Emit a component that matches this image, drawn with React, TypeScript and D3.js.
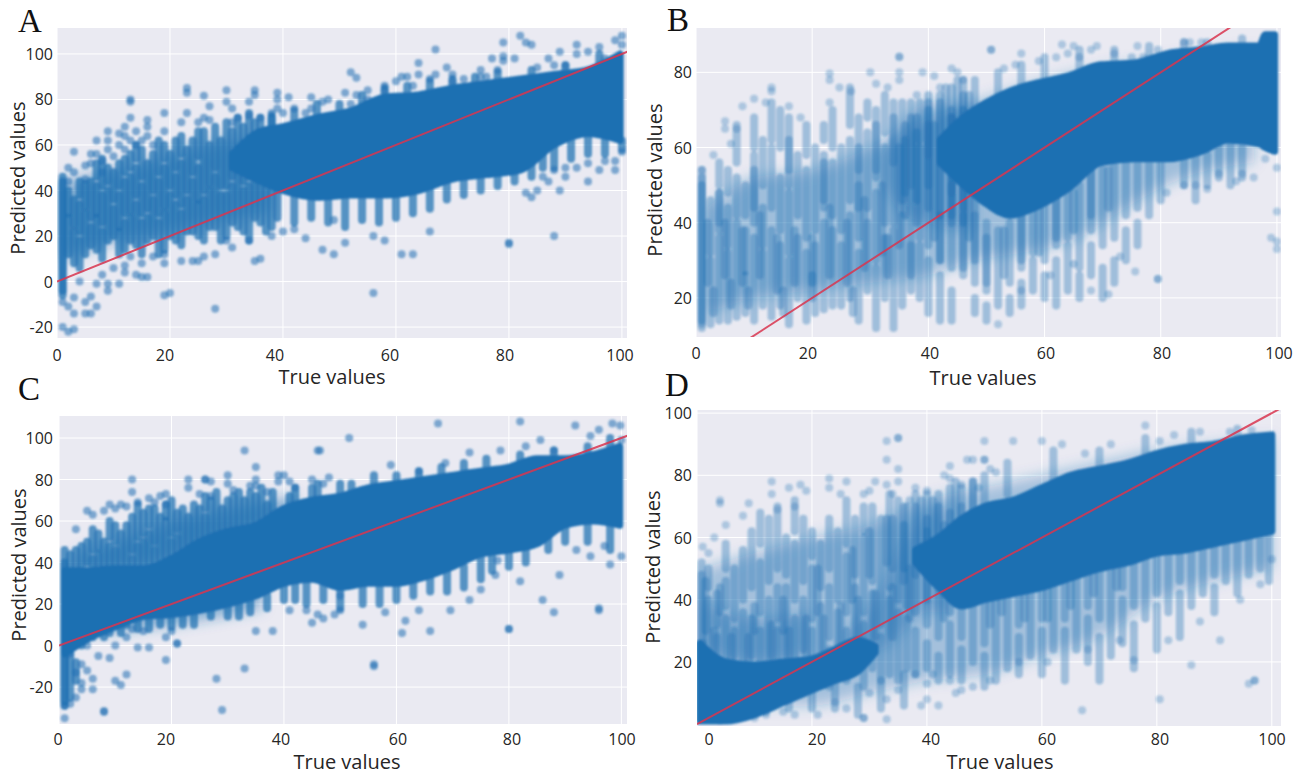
import React from 'react';
import * as d3 from 'd3';

// the saturated middle of each cloud cannot be read dot by dot, so it is kept as
// [true, low, high] bands, with paler wash bands where the dots only partly overlap;
// stacked dot columns are [true, low, high] strips; dots that can be told apart are [true, ...predicted]
const xTicks = [0, 20, 40, 60, 80, 100];
const yTicksA = [-20, 0, 20, 40, 60, 80, 100];
const yTicksB = [20, 40, 60, 80];
const yTicksC = [-20, 0, 20, 40, 60, 80, 100];
const yTicksD = [20, 40, 60, 80, 100];

const aCore = [[31, 50, 56], [36, 44, 66], [40, 40, 68], [46, 37, 72], [52, 38, 75], [58, 38, 81], [64, 40, 82], [70, 45, 85], [76, 47, 87], [82, 49, 89], [88, 60, 91], [94, 65, 93], [99.7, 62, 100]];
const aWash = [[1, 10, 44], [8, 16, 48], [16, 20, 52], [24, 24, 58], [32, 28, 62], [38, 30, 60]];
const aStrips = [
  [1, -6, 46], [1, -4, 44], [3, 8, 22], [3, 25, 36], [5, 12, 30], [5, 33, 43], [7, 14, 28], [7, 30, 42], [7, 46, 52],
  [9, 18, 40], [9, 44, 50], [11, 12, 22], [11, 24, 38], [11, 42, 52], [13, 18, 28], [13, 31, 46], [13, 50, 56],
  [15, 12, 26], [15, 30, 42], [15, 46, 58], [17, 20, 36], [17, 40, 56], [19, 14, 30], [19, 33, 50], [19, 54, 60],
  [21, 18, 34], [21, 38, 46], [21, 50, 62], [23, 22, 36], [23, 40, 58], [25, 20, 34], [25, 36, 50], [25, 55, 66],
  [27, 24, 40], [27, 43, 60], [29, 18, 38], [29, 42, 62], [31, 26, 42], [31, 46, 66], [33, 22, 40], [33, 44, 68],
  [35, 28, 46], [35, 48, 70], [37, 22, 42], [39, 28, 40], [42, 26, 37], [45, 28, 36], [48, 26, 36], [51, 24, 36],
  [54, 27, 36], [57, 26, 38], [60, 28, 38], [63, 30, 40], [66, 32, 42], [69, 36, 45], [72, 38, 46], [75, 40, 47],
  [2, 12, 28], [2, 30, 40], [4, 6, 18], [4, 22, 34], [4, 38, 44], [6, 16, 24], [6, 28, 44], [8, 10, 22], [8, 26, 38], [8, 42, 54], [10, 20, 32], [10, 36, 48],
  [12, 14, 26], [12, 30, 44], [12, 48, 54], [14, 16, 34], [14, 38, 50], [14, 54, 60], [16, 18, 28], [16, 32, 52], [18, 12, 26], [18, 30, 44], [18, 48, 62],
  [20, 20, 38], [20, 42, 56], [22, 16, 30], [22, 34, 52], [22, 56, 64], [24, 22, 44], [24, 48, 62], [26, 18, 36], [26, 40, 66], [28, 24, 46], [28, 50, 68],
  [30, 20, 38], [30, 42, 70], [32, 24, 50], [32, 54, 72], [34, 18, 42], [34, 46, 74], [36, 26, 72], [38, 24, 72],
  [38, 68, 73], [42, 70, 75], [46, 72, 78], [50, 74, 78], [54, 76, 82], [58, 82, 85], [62, 82, 86], [66, 83, 88], [70, 85, 89], [74, 86, 90], [78, 87, 92], [84, 89, 93], [90, 91, 95], [96, 94, 100],
  [78, 42, 49], [81, 44, 50], [84, 46, 54], [86, 50, 60], [88, 50, 60], [91, 54, 64], [94, 56, 65], [97, 56, 62], [100, 58, 62],
];
const aPoints = [
  [1, -20, -9], [2, 50, 44, -22, -11], [3, 57, 48, -21, -14, -7], [4, 0], [5, 51, 45, -9, -14], [6, 56, 52, -6.6, -14], [7, 62, 56, -11, -1],
  [8, 53, 48, 3], [9, 66, 62, 58, -4, -1], [10, 55, 6], [11, 65, 60, -1], [12, 68, 64, 58, 4, 7], [13, 80, 79, 72, 62, 11], [14, 66, 60, 3],
  [15, 62, 2, 8], [16, 71, 68, 64, 2], [17, 60, 11], [19, 74, 66, -6, 8, 12], [20, -5], [22, 70, 9], [23, 85, 83, 74], [24, 9], [25, 9, 70],
  [26, 81.6, 72, 11], [27, 77, 71], [28, 12, -12], [30, 84, 79, 18], [31, 76, 70, 15], [32, 72], [34, 79, 73, 18], [35, 84, 82, 9], [36, 72, 10],
  [38, 74, 20], [39, 83, 80, 76], [40, 22, 74], [41, 81], [42, 23, 76], [44, 19, 74], [45, 81, 76], [47, 79, 14], [48, 80], [49, 27, 12], [51, 83, 17],
  [52, 92, 78], [53, 89.5, 82], [55, 80, 84], [56, -5, 20], [58, 18, 86, 84], [60, 88], [61, 12, 90], [62, 90], [63, 12, 86], [64, 96, 91], [66, 89, 22],
  [67, 102, 91], [69, 94], [70, 91, 88], [72, 89], [75, 93, 90], [76, 90], [77, 98], [78, 93], [79, 105, 99, 97], [80, 17, 16.5], [81, 98], [82, 108],
  [83, 105, 39], [84, 104, 37], [85, 40, 94], [86, 46], [87, 98, 44], [88, 20, 49, 95], [89, 101, 40], [90, 95, 50, 46], [92, 104, 100, 50], [94, 101, 44, 52],
  [96, 103, 49], [97, 53, 98], [98.8, 106, 49, 53], [100, 108, 57, 104],
];

const bCore = [[42, 56, 62], [46, 50, 68], [50, 45, 72], [54, 42, 75], [58.3, 44, 77], [64, 49, 79], [69.7, 56, 82], [75.5, 57, 82.5], [81.2, 57, 85], [87, 59, 86], [91.6, 62, 87], [97, 61, 87], [98, 60, 90], [99.6, 59, 90]];
const bWash = [[2, 16, 44], [10, 20, 52], [20, 22, 54], [30, 24, 60], [40, 26, 68], [48, 30, 72], [56, 32, 76], [66, 36, 80], [74, 44, 82], [84, 52, 84], [96, 56, 86]];
const bWashInner = [[32, 50, 58], [36, 42, 68], [40, 40, 72], [44, 38, 72], [48, 38, 72]];
const bStrips = [
  [1, 12, 54], [1, 13, 52], [1, 14, 50], [2.5, 13, 30], [2.5, 32, 46], [4, 14, 36], [4, 38, 48], [4, 50, 56], [5.5, 14, 32], [5.5, 34, 44], [5.5, 48, 54],
  [7, 15, 40], [7, 42, 52], [7, 56, 66], [8.5, 16, 26], [8.5, 27, 38], [8.5, 42, 50], [10, 14, 36], [10, 40, 58], [10, 60, 68], [11.5, 18, 32], [11.5, 34, 44], [11.5, 50, 62],
  [13, 15, 38], [13, 44, 60], [13, 62, 72], [14.5, 18, 34], [14.5, 38, 52], [14.5, 60, 70], [16, 13, 30], [16, 32, 48], [16, 54, 68], [17.5, 20, 36], [17.5, 42, 58],
  [19, 14, 32], [19, 36, 54], [19, 58, 66], [20.5, 16, 34], [20.5, 38, 60], [22, 17, 40], [22, 44, 58], [22, 62, 66], [23.5, 18, 38], [23.5, 42, 56], [23.5, 60, 70],
  [25, 18, 34], [25, 38, 60], [26.5, 20, 42], [26.5, 46, 62], [26.5, 66, 76], [28, 14, 32], [28, 36, 50], [28, 54, 68], [29.5, 22, 40], [29.5, 44, 64], [29.5, 68, 72],
  [31, 12, 28], [31, 30, 48], [31, 52, 70], [32.5, 20, 36], [32.5, 40, 60], [32.5, 64, 74], [34, 12, 38], [34, 40, 68], [35.5, 18, 42], [35.5, 46, 72], [37, 22, 44], [37, 46, 68],
  [38.5, 20, 34], [38.5, 36, 60], [38.5, 62, 72], [40, 16, 30], [40, 34, 72], [42, 14, 26], [42, 30, 74], [44, 14, 22], [44, 28, 50], [44, 54, 76], [46, 26, 78], [48, 30, 78],
  [36, 48, 66], [38, 46, 68], [40, 44, 70], [42, 42, 72], [44, 42, 70], [46, 40, 74], [36, 42, 62], [40, 50, 66], [44, 48, 68], [46, 44, 70],
  [48, 16, 20], [48, 24, 42], [50, 14, 18], [50, 22, 40], [52, 18, 38], [54, 16, 20], [54, 24, 40], [56, 18, 24], [56, 28, 44], [58, 22, 30], [58, 32, 44], [60, 20, 26], [60, 30, 46],
  [62, 18, 30], [62, 34, 48], [64, 22, 34], [64, 36, 48], [66, 20, 26], [66, 28, 50], [68, 26, 34], [68, 38, 54], [70, 20, 28], [70, 34, 54], [72, 24, 30], [72, 36, 56], [74, 30, 38], [74, 42, 56],
  [76, 34, 40], [76, 44, 56], [78, 42, 56], [80, 46, 56], [84, 50, 58], [86, 46, 58], [88, 50, 58], [90, 52, 60], [92, 50, 62], [94, 52, 60],
  [52, 74, 80], [56, 76, 82], [60, 78, 84], [66, 80, 86], [72, 81, 86], [78, 82, 87], [84, 84, 88], [88, 85, 88], [94, 86, 89],
  [2, 24, 40], [5, 26, 40], [8, 24, 38], [11, 26, 42], [14, 22, 36], [17, 24, 38], [20, 24, 36], [23, 26, 44], [26, 24, 40], [29, 28, 46], [32, 32, 50], [35, 34, 60], [38, 40, 64], [41, 36, 66], [44, 40, 68], [47, 36, 74],
  [3, 16, 22], [6, 18, 24], [9, 18, 22], [15, 16, 22], [20, 20, 26], [27, 16, 22], [4, 40, 48], [10, 44, 54], [16, 50, 62], [22, 46, 56], [28, 44, 60], [31, 54, 66], [34, 56, 72], [37, 50, 72], [40, 58, 74], [43, 56, 76], [45, 60, 78],
  [33, 26, 36], [37, 26, 34], [42, 30, 42], [46, 28, 42], [50, 24, 36], [53, 26, 38], [56, 30, 42], [59, 32, 44], [62, 36, 46], [65, 38, 48], [68, 42, 54], [71, 44, 54],
];
const bPoints = [
  [1, 54], [3, 58], [5, 67, 65], [6, 61], [7, 65], [8, 71], [10, 73], [12, 72], [13, 76, 75], [16, 71], [18, 68], [23, 79.7, 78, 72], [24.7, 76], [26.7, 75],
  [30, 80], [31, 77], [33, 76], [35, 84.2, 84, 80, 78], [38, 74], [39, 80], [41, 79], [42, 76], [44, 81], [45, 80], [46, 78],
  [50.8, 86, 86], [52, 13], [53, 81], [55, 82], [56, 85, 22], [59, 83], [61, 26], [62, 84], [63, 87.4], [64, 85], [65, 87, 29], [66, 84], [68, 86, 22], [69, 87], [71, 21], [72, 85], [73, 31],
  [75, 84], [75.6, 27], [76, 87], [77, 84], [79.5, 86, 25, 25], [81, 48], [84, 88, 50], [85, 88], [86, 50], [87, 88], [88, 49], [90, 53], [93, 51], [94, 53], [96, 52], [98, 57], [99, 36], [100, 54.6, 43, 35, 33],
];

const cCore = [[1, -4, 36], [5, 3, 36], [10, 9, 37], [15, 14, 37], [20, 15, 42], [25, 17, 50], [30, 20, 55], [35, 24, 58], [40, 30, 66], [45, 32, 70], [50, 28, 72], [55, 30, 76], [60, 30, 78], [65, 33, 80], [70, 38, 82], [75, 44, 84], [80, 46, 86], [85, 49, 90], [90, 58, 90], [95, 60, 92], [99.7, 58, 96]];
const cWash = [[3, 36, 44], [10, 37, 50], [18, 40, 58], [26, 48, 64], [34, 56, 68], [42, 64, 72]];
const cWashLow = [[6, 6, 14], [20, 10, 20], [36, 18, 30]];
const cStrips = [
  [1, -29, 46], [1, -27, 40], [2, -25, -4], [3, -17, -8], [3, 38, 46], [5, 40, 50], [7, 37, 44], [7, 47, 54], [9, 38, 48], [9, 52, 60], [11, 38, 54], [13, 38, 42], [13, 46, 62], [15, 39, 50], [15, 54, 64],
  [17, 38, 46], [17, 50, 66], [19, 42, 60], [19, 62, 68], [21, 44, 52], [21, 56, 64], [23, 44, 62], [25, 52, 66], [27, 52, 70], [29, 56, 66], [31, 58, 72], [33, 58, 70], [35, 60, 72], [37, 60, 68],
  [41, 66, 72], [45, 70, 76], [52, 74, 78], [60, 78, 82], [6, 4, 10], [9, 6, 14], [12, 10, 14], [18, 10, 15], [22, 10, 16], [27, 14, 18], [32, 14, 20], [37, 18, 24], [42, 22, 30], [47, 22, 32], [54, 20, 30], [60, 22, 30], [66, 26, 33],
  [72, 28, 38], [77, 36, 44], [83, 40, 49], [87, 46, 58], [90, 50, 58], [94, 50, 60], [98, 46, 58],
  [2, 38, 44], [4, 36, 48], [6, 36, 42], [6, 46, 56], [8, 38, 50], [10, 38, 46], [10, 50, 58], [12, 40, 58], [14, 38, 48], [14, 52, 68], [16, 40, 54], [16, 58, 66], [18, 42, 62], [20, 42, 50], [20, 54, 70], [22, 46, 66], [24, 50, 68], [26, 50, 62], [26, 66, 72],
  [28, 54, 74], [30, 56, 70], [32, 56, 74], [34, 58, 74], [36, 60, 76], [38, 62, 74], [42, 68, 76], [46, 70, 78], [50, 72, 78], [56, 76, 82], [64, 80, 84], [68, 81, 86], [72, 83, 88], [76, 84, 90], [82, 86, 92], [88, 88, 94], [94, 90, 96], [98, 92, 100],
  [4, 0, 8], [8, 4, 12], [11, 6, 12], [14, 8, 15], [16, 8, 14], [20, 9, 16], [24, 10, 18], [30, 14, 20], [34, 16, 24], [40, 22, 30], [44, 20, 32], [50, 18, 28], [57, 20, 30], [63, 24, 33], [69, 26, 38], [75, 32, 44], [80, 38, 46],
];
const cPoints = [
  [1, -35, -29], [2, -28, -4], [3, 56, -25, -13], [4, -9, -18, -21], [5, 65, -12, 0], [6, 63, -21, -16], [7, -5], [8, 65, -32, -31.5], [9, 68, -6], [10, 66, -17, 0], [11, 68, -19], [12, 67, 4, -14],
  [13, 80, 74, 8], [14, 69, -1], [15, 7], [16, 71, -1], [17, 69], [18, 72], [19, 73, 68, -7, 4], [20, 7], [21, 1, 1], [23, 80, 76], [25, 73], [26, 80, 80], [27, 79, 72], [28, -16], [29, -31], [30, 82, 78],
  [31, 75], [33, 94, -11], [34, 77], [35, 86, 80, 77, 7], [37, 74], [38, 7], [39, 82, 79], [40, 82], [41, 79, 17], [42, 76], [44, 17], [45, 80, 11], [46, 94, 15], [46.4, 94], [47, 78, 13], [48, 81], [49, 15],
  [50, 17, 24], [51.6, 100], [54, 10], [56, -10, -9], [58, 16], [59, 87], [61, 6], [61.6, 12], [64, 84, 17], [66, 7], [67.4, 107], [68.7, 88], [69.6, 17], [73, 93, 83, 22], [75, 27], [77.6, 34], [78, 41],
  [78.5, 94], [80, 8, 8], [82, 108, 31], [83, 96], [85.6, 99], [86, 22], [88, 94, 16], [89, 34], [91.8, 106], [92, 46], [94.5, 101, 43], [96, 104, 18, 17], [97, 48], [98, 39], [98.4, 107], [99.8, 106], [100, 99, 43],
];

const dCoreLeft = [[0.5, 1, 26], [5, 1, 20], [10, 3, 19], [15, 7, 20], [20, 11, 21], [24, 14, 24], [28, 17, 27], [31, 23, 25]];
const dCoreMain = [[38, 52, 56], [42, 44, 60], [46, 38, 66], [50, 40, 70], [55, 42, 72], [60, 44, 76], [65, 47, 80], [70, 50, 82], [75, 52, 84], [80, 55, 87], [85, 56, 89], [90, 58, 90], [95, 60, 92], [100, 62, 93]];
const dWash = [[1, 4, 50], [10, 6, 55], [20, 6, 60], [30, 10, 64], [40, 14, 72], [50, 16, 76], [60, 22, 80], [70, 28, 84], [80, 40, 88], [90, 46, 90], [100, 50, 92]];
const dWashInner = [[26, 24, 30], [32, 24, 44], [36, 30, 60], [40, 36, 68], [44, 36, 70]];
const dWashLeft = [[0.5, 24, 40], [10, 20, 34], [20, 22, 36]];
const dStrips = [
  [0.8, 25, 52], [0.8, 26, 48], [2, 20, 40], [2, 44, 50], [3.5, 18, 28], [3.5, 32, 42], [5, 18, 34], [5, 38, 46], [5, 50, 58], [6.5, 22, 30], [6.5, 34, 50], [8, 16, 36], [8, 40, 56],
  [9.5, 22, 34], [9.5, 44, 62], [11, 18, 30], [11, 36, 52], [11, 58, 68], [12.5, 20, 40], [12.5, 46, 66], [14, 20, 30], [14, 34, 44], [14, 50, 70], [15.5, 22, 44], [15.5, 48, 60], [17, 18, 34], [17, 40, 58], [17, 62, 72],
  [18.5, 24, 40], [18.5, 46, 66], [20, 16, 30], [20, 34, 50], [20, 54, 62], [21.5, 20, 38], [21.5, 44, 58], [23, 12, 24], [23, 28, 44], [23, 50, 66], [24.5, 18, 36], [24.5, 40, 62], [26, 14, 30], [26, 36, 54], [26, 58, 72],
  [27.5, 20, 44], [27.5, 48, 66], [29, 12, 32], [29, 36, 60], [29, 62, 70], [30.5, 18, 42], [30.5, 46, 70], [32, 14, 28], [32, 32, 66], [33.5, 16, 40], [33.5, 44, 74], [35, 14, 36], [35, 40, 72], [36.5, 18, 34], [36.5, 38, 70],
  [38, 16, 30], [38, 36, 74], [40, 18, 26], [40, 32, 74], [42, 14, 22], [42, 28, 74], [44, 16, 32], [44, 36, 76], [46, 14, 24], [46, 28, 76], [48, 20, 38], [48, 40, 78], [50, 12, 22], [50, 26, 80], [52, 14, 40], [54, 18, 42], [56, 16, 28], [56, 32, 44],
  [34, 50, 66], [38, 48, 70], [42, 46, 70], [40, 50, 66], [36, 46, 64], [44, 44, 68], [58, 22, 44], [60, 16, 30], [60, 34, 46], [62, 24, 46], [64, 14, 30], [64, 34, 48], [66, 24, 48], [68, 20, 34], [68, 38, 50], [70, 14, 28], [70, 34, 52], [72, 22, 50],
  [74, 26, 40], [74, 44, 52], [76, 18, 32], [76, 38, 54], [78, 34, 56], [80, 24, 38], [80, 42, 56], [82, 36, 56], [84, 28, 42], [84, 46, 58], [86, 38, 56], [88, 42, 58], [90, 36, 44], [90, 48, 58], [92, 46, 60], [94, 42, 60], [96, 48, 60], [98, 50, 62], [99.5, 46, 62],
  [12, 4, 14], [16, 5, 15], [20, 5, 12], [24, 5, 18], [28, 3, 12], [32, 5, 14], [36, 6, 16], [54, 74, 84], [62, 78, 88], [70, 82, 88], [78, 84, 92], [86, 88, 94], [94, 90, 95],
  [1, 10, 26], [3, 20, 30], [6, 20, 28], [9, 20, 28], [13, 22, 32], [16, 22, 30], [19, 22, 34], [22, 24, 34], [25, 24, 38], [28, 26, 40], [31, 28, 42], [34, 28, 44], [37, 34, 50], [40, 40, 62], [43, 34, 64], [46, 40, 70],
  [1.5, 30, 46], [4, 36, 44], [10, 30, 38], [15, 30, 40], [21, 36, 50], [27, 40, 56], [30, 48, 62], [33, 52, 66], [36, 50, 70], [39, 56, 72], [41, 52, 72], [45, 56, 78], [48, 52, 78],
  [51, 32, 46], [53, 36, 44], [57, 34, 44], [61, 34, 46], [65, 38, 50], [69, 42, 52], [73, 44, 54],
];
const dPoints = [
  [1, 57], [2, 55], [3, 60], [4, 72, 71, 1], [5, 64], [7, 2], [8, 67], [9, 71], [10, 2], [12, 3], [13, 78, 74], [14, 69], [15, 4], [16, 76], [17, 70, 3], [18, 77], [19, 75], [21, 3], [23, 76, 79], [24, 7],
  [25, 74], [26, 78, 5], [29, 74, 2, 2], [30, 75, 10], [31, 78], [33, 91, 85, 77, 8, 1.6], [34, 74], [35, 92, 92, 82, 78, 11], [37, 72], [38, 76, 16], [39, 6], [40, 75, 13, 8], [41, 16], [42, 6], [43, 80], [44, 83, 79, 14],
  [45, 10], [46, 77, 11], [47, 85], [48, 85, 12], [49, 76], [50, 91, 85, 85], [51, 82, 14], [52, 81], [55, 91], [56, 20], [60, 91], [61, 20], [63.5, 90], [67, 4.5], [67.5, 87], [68, 24], [72, 90], [73.5, 27], [76, 20.5],
  [78, 96], [80.5, 91, 8], [82, 27], [83, 93], [86, 19], [87.5, 94, 33], [91, 27], [92.7, 94], [94.5, 40], [96, 13], [96.5, 94.5], [97, 14, 14], [98, 45], [100, 53],
];

const panels = [
  { letter: 'A', letterX: 18, letterY: 32, left: 57, right: 627, top: 28, bottom: 338, xMax: 100.9, yDomain: [-24.8, 111.4], yTicks: yTicksA, bands: [aCore], washes: [aWash], washAlpha: 0.5, strips: aStrips, points: aPoints, alpha: 0.55, stripAlpha: 0.72, tickX: [57, 165, 275, 390, 505, 620], tickLabelY: 361, yLabelRight: 53, xTitleX: 332, xTitleY: 384, yTitleX: 25, yTitleY: 178 },
  { letter: 'B', letterX: 667, letterY: 31, left: 696, right: 1281, top: 28, bottom: 337, xMax: 100.7, yDomain: [9.6, 91.8], yTicks: yTicksB, bands: [bCore], washes: [bWash, bWashInner], washAlpha: 0.36, strips: bStrips, points: bPoints, alpha: 0.3, stripAlpha: 0.36, tickX: [696, 808, 930, 1046, 1162, 1279], tickLabelY: 359, yLabelRight: 692, xTitleX: 983, xTitleY: 385, yTitleX: 662, yTitleY: 180 },
  { letter: 'C', letterX: 18, letterY: 400, left: 59, right: 627, top: 416, bottom: 724, xMax: 101, yDomain: [-37.8, 110.6], yTicks: yTicksC, bands: [cCore], washes: [cWash, cWashLow], washAlpha: 0.5, strips: cStrips, points: cPoints, alpha: 0.55, stripAlpha: 0.72, tickX: [58, 166, 281, 398, 512, 622], tickLabelY: 745, yLabelRight: 53, xTitleX: 347, xTitleY: 769, yTitleX: 26, yTitleY: 565 },
  { letter: 'D', letterX: 665, letterY: 396, left: 697, right: 1281, top: 410, bottom: 726, xMax: 101.6, yDomain: [-0.6, 101], yTicks: yTicksD, bands: [dCoreLeft, dCoreMain], washes: [dWash, dWashInner, dWashLeft], washAlpha: 0.34, strips: dStrips, points: dPoints, alpha: 0.3, stripAlpha: 0.36, tickX: [709, 817, 931, 1047, 1160, 1272], tickLabelY: 745, yLabelRight: 692, xTitleX: 1000, xTitleY: 769, yTitleX: 660, yTitleY: 567 },
];

const blue = '#1f70b2';
const font = '"Open Sans", sans-serif';

function Panel({ p }: { p: (typeof panels)[number] }) {
  const x = d3.scaleLinear().domain([0, p.xMax]).range([p.left, p.right]);
  const y = d3.scaleLinear().domain(p.yDomain).range([p.bottom, p.top]);
  const area = d3.area<number[]>().x(d => x(d[0])).y0(d => y(d[1])).y1(d => y(d[2])).curve(d3.curveMonotoneX);
  const diagonal = d3.line<number>().x(d => x(d)).y(d => y(d));
  const clip = `clip-${p.letter}`;

  return (
    <g>
      <clipPath id={clip}>
        <rect x={p.left} y={p.top} width={p.right - p.left} height={p.bottom - p.top} />
      </clipPath>
      <rect x={p.left} y={p.top} width={p.right - p.left} height={p.bottom - p.top} fill="#eaeaf2" />
      {xTicks.map(t => <line key={t} x1={x(t)} x2={x(t)} y1={p.top} y2={p.bottom} stroke="#fff" strokeWidth={1} />)}
      {p.yTicks.map(t => <line key={t} x1={p.left} x2={p.right} y1={y(t)} y2={y(t)} stroke="#fff" strokeWidth={1} />)}

      <g clipPath={`url(#${clip})`}>
        <g filter="url(#wash)">
          {p.washes.map((b, i) => <path key={i} d={area(b) ?? ''} fill={blue} fillOpacity={p.washAlpha} />)}
        </g>
        <g filter="url(#soft)">
          {p.strips.map((s, i) => (
            <line key={i} x1={x(s[0])} x2={x(s[0])} y1={y(s[1])} y2={y(s[2])} stroke={blue} strokeOpacity={p.stripAlpha} strokeWidth={8} strokeLinecap="round" />
          ))}
          {p.bands.map((b, i) => <path key={i} d={area(b) ?? ''} fill={blue} stroke={blue} strokeWidth={7} strokeLinejoin="round" />)}
          {p.points.flatMap(c => c.slice(1).map((v, i) => (
            <circle key={`${c[0]}-${i}`} cx={x(c[0])} cy={y(v)} r={4} fill={blue} fillOpacity={p.alpha} />
          )))}
        </g>
        <path d={diagonal([0, 120]) ?? ''} fill="none" stroke="#d8354f" strokeOpacity={0.85} strokeWidth={2} />
      </g>

      <g fontFamily={font} fontSize={16} fill="#262626">
        {xTicks.map((t, i) => <text key={t} x={p.tickX[i]} y={p.tickLabelY} textAnchor="middle">{t}</text>)}
        {p.yTicks.map(t => <text key={t} x={p.yLabelRight} y={y(t) + 6} textAnchor="end">{t}</text>)}
      </g>
      <g fontFamily={font} fontSize={20} fill="#262626">
        <text x={p.xTitleX} y={p.xTitleY} textAnchor="middle">True values</text>
        <text transform={`translate(${p.yTitleX},${p.yTitleY}) rotate(-90)`} textAnchor="middle">Predicted values</text>
      </g>
      <text x={p.letterX} y={p.letterY} fontFamily='"Liberation Serif", serif' fontSize={33} fill="#111" textAnchor="start">{p.letter}</text>
    </g>
  );
}

export default function App() {
  return (
    <svg width={1308} height={774} style={{ position: 'absolute', left: 0, top: 0, display: 'block', background: '#fff' }}>
      <defs>
        <filter id="soft" x="-5%" y="-5%" width="110%" height="110%">
          <feGaussianBlur stdDeviation={0.8} />
        </filter>
        <filter id="wash" x="-10%" y="-10%" width="120%" height="120%">
          <feGaussianBlur stdDeviation={7} />
        </filter>
      </defs>
      {panels.map(p => <Panel key={p.letter} p={p} />)}
    </svg>
  );
}
